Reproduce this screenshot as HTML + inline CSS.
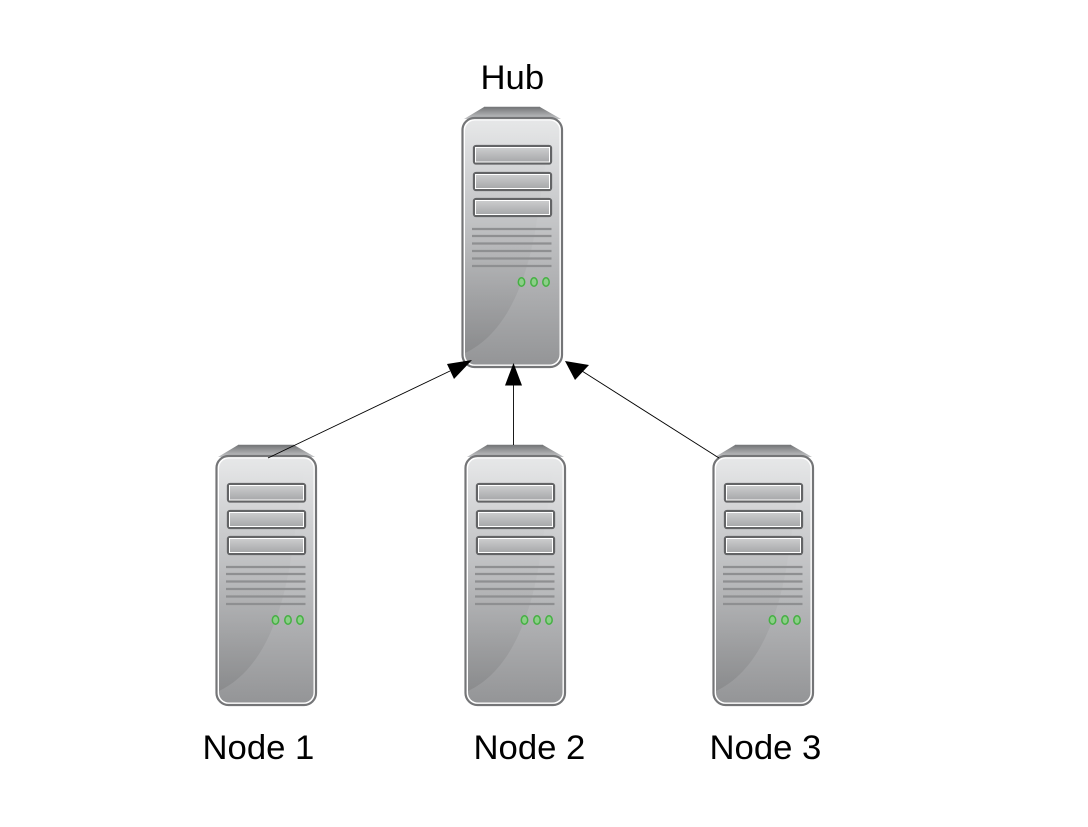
<!DOCTYPE html>
<html><head><meta charset="utf-8"><style>
html,body{margin:0;padding:0;background:#fff;width:1088px;height:827px;overflow:hidden}
svg{display:block}
text{font-family:"Liberation Sans",sans-serif;font-size:34.700px;fill:#000}
</style></head><body>
<svg width="1088" height="827" viewBox="0 0 1088 827" xmlns="http://www.w3.org/2000/svg">
<defs>
<linearGradient id="b" x1="0" y1="0" x2="0" y2="1">
<stop offset="0" stop-color="#e6e7e8"/><stop offset=".3" stop-color="#cdced0"/><stop offset=".65" stop-color="#b1b2b4"/><stop offset="1" stop-color="#949597"/>
</linearGradient>
<linearGradient id="c" x1="0" y1="0" x2="0" y2="1">
<stop offset="0" stop-color="#747577"/><stop offset="1" stop-color="#c4c5c7"/>
</linearGradient>
<linearGradient id="sl" x1="0" y1="0" x2="0" y2="1">
<stop offset="0" stop-color="#d0d1d2"/><stop offset="1" stop-color="#a3a4a6"/>
</linearGradient>
<linearGradient id="sw" x1="0" y1="0" x2="0" y2="1">
<stop offset="0" stop-color="#000" stop-opacity="0"/><stop offset=".5" stop-color="#000" stop-opacity=".02"/><stop offset="1" stop-color="#000" stop-opacity=".09"/>
</linearGradient>
<g id="srv">
<path d="M23 0H79L100 12H3Z" fill="url(#c)"/>
<path d="M23 .5H79" stroke="#77787a" stroke-width="1.500"/>
<rect x="1.500" y="11" width="99.500" height="249" rx="12" fill="#fff" stroke="#747577" stroke-width="2.200"/>
<rect x="4" y="13.500" width="94.500" height="244" rx="10" fill="url(#b)"/>
<path d="M4 246C38 230 62 190 74 125C80 90 85 50 91 14L12 13.500Q4 13.500 4 22Z" fill="url(#sw)"/>
<g fill="url(#sl)" stroke="#636466" stroke-width="2.300">
<rect x="13" y="39" width="77" height="17.500" rx="2"/>
<rect x="13" y="66" width="77" height="17" rx="2"/>
<rect x="13" y="92" width="77" height="17" rx="2"/>
</g>
<g fill="none" stroke="#fff" stroke-width="1">
<rect x="14.500" y="40.500" width="74" height="14.500"/>
<rect x="14.500" y="67.500" width="74" height="14"/>
<rect x="14.500" y="93.500" width="74" height="14"/>
</g>
<g stroke="#8e8f91" stroke-width="2.200">
<path d="M11 122H90.500M11 129H90.500M11 136.500H90.500M11 144H90.500M11 151.500H90.500M11 159H90.500"/>
</g>
<g fill="#8ccf88" stroke="#45b043" stroke-width="1.500">
<ellipse cx="60.500" cy="175" rx="3.200" ry="4.200"/>
<ellipse cx="73" cy="175" rx="3.200" ry="4.200"/>
<ellipse cx="85" cy="175" rx="3.200" ry="4.200"/>
</g>
</g>
</defs>
<use href="#srv" x="461" y="107"/>
<use href="#srv" x="215" y="445"/>
<use href="#srv" x="464" y="445"/>
<use href="#srv" x="712" y="445"/>
<g stroke="#000" stroke-width=".9" fill="none">
<path d="M268 458L450 371"/>
<path d="M513.500 445V385"/>
<path d="M719 458L582 371"/>
</g>
<g fill="#000">
<path d="M472 360L447 364L454 379Z"/>
<path d="M513.500 363L505 385.500H522Z"/>
<path d="M565 361L575 380L589 365Z"/>
</g>
<text x="480.500" y="89">Hub</text>
<text x="202.500" y="759">Node 1</text>
<text x="473.500" y="759">Node 2</text>
<text x="709.500" y="759">Node 3</text>
</svg>
</body></html>
